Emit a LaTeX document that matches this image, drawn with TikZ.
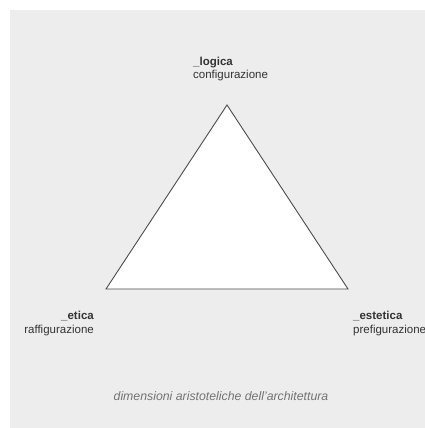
\documentclass[tikz,border=0pt]{standalone}
\usepackage{fontspec}
\setmainfont{Liberation Sans}
\begin{document}
\begin{tikzpicture}[x=1bp,y=-1bp,
  label text/.style={inner sep=0pt, text=black!80, font=\fontsize{11.5bp}{13bp}\selectfont},
  head text/.style={label text, font=\fontsize{11.5bp}{13bp}\selectfont\bfseries},
  caption text/.style={inner sep=0pt, text=black!55, font=\fontsize{12.3bp}{14bp}\selectfont\itshape}]
  % canvas and backdrop
  \useasboundingbox (0,0) rectangle (425,428);
  \fill[white] (0,0) rectangle (425,428);
  \fill[black!7] (10,10) rectangle (425,428);

  % triangle of the three dimensions
  \coordinate (apex) at (227,105);
  \coordinate (left) at (106,289);
  \coordinate (right) at (348,289);
  \draw[fill=white, draw=black!70, line width=0.9bp, line join=miter] (apex) -- (right) -- (left) -- cycle;

  % vertex labels
  \node[head text, anchor=base west] (logica) at (193,65) {\_logica};
  \node[label text, anchor=base west] (config) at (193,78) {configurazione};

  \node[head text, anchor=base east] (etica) at (94,319) {\_etica};
  \node[label text, anchor=base east] (raffig) at (94,333) {raffigurazione};

  \node[head text, anchor=base west] (estetica) at (353,319) {\_estetica};
  \node[label text, anchor=base west] (prefig) at (353,333) {prefigurazione};

  % caption
  \node[caption text, anchor=base] (caption) at (221,400) {dimensioni aristoteliche dell’architettura};
\end{tikzpicture}
\end{document}
